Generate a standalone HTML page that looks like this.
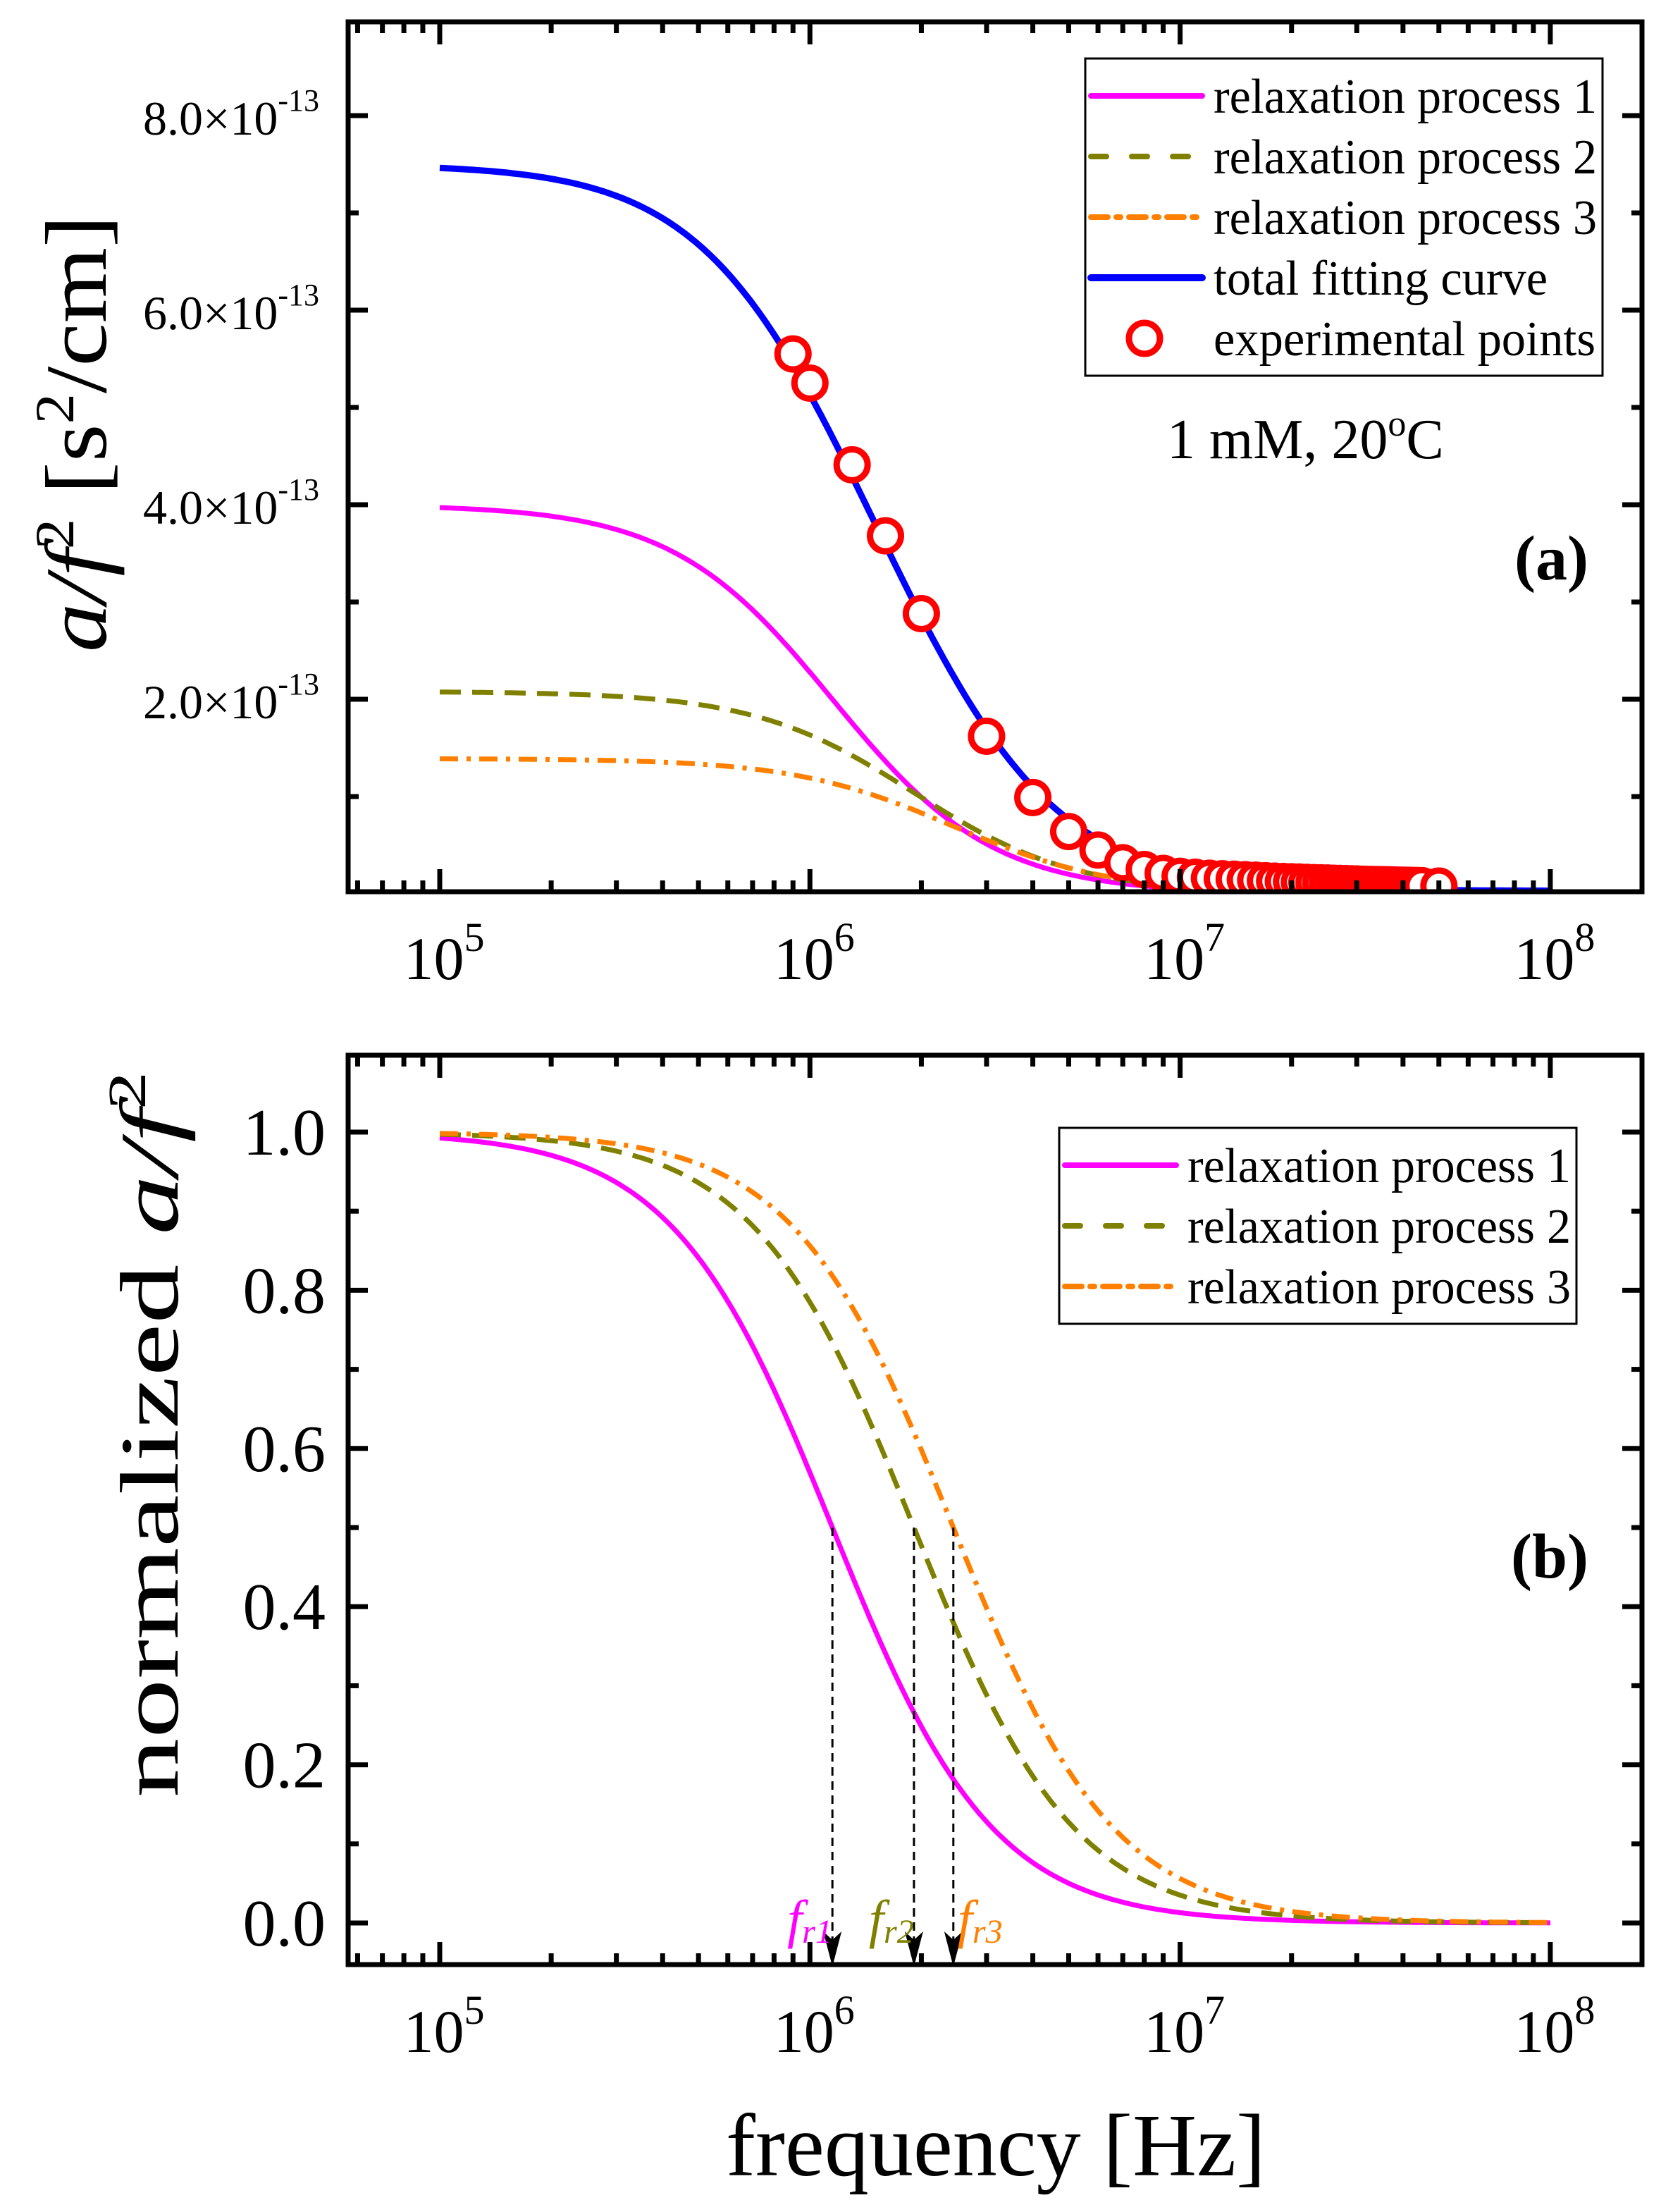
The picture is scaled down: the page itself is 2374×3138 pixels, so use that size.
<!DOCTYPE html>
<html><head><meta charset="utf-8"><style>
html,body{margin:0;padding:0;background:#fff;}
svg{display:block;font-family:"Liberation Serif",serif;}
</style></head><body>
<svg id="chart" xmlns="http://www.w3.org/2000/svg" width="2374" height="3138" viewBox="0 0 2374 3138">
<defs>
<clipPath id="clipA"><rect x="494" y="31" width="1836" height="1234"/></clipPath>
<clipPath id="clipB"><rect x="494" y="1497" width="1836" height="1290"/></clipPath>
</defs>
<g id="panelA"></g>
<g id="panelB"></g>
</svg>
<script>
// ---- data ----
const relaxFreqs = [1.15e6, 1.91e6, 2.44e6];          // fr1, fr2, fr3 (Hz)
const amplitudes = [4.0e-13, 2.08e-13, 1.39e-13];     // process amplitudes
const background = [0.03e-13];
const seriesNames = ["relaxation process 1","relaxation process 2","relaxation process 3"];
const expFreq = [0.9e6,1.0e6,1.3e6,1.6e6,2.0e6,3.0e6,4.0e6,5.0e6,6.0e6,7.0e6,8.0e6,9.0e6,10e6,
 11e6,12e6,13e6,14e6,15e6,16e6,17e6,18e6,19e6,20e6,21e6,22e6,23e6,24e6,25e6,26e6,27e6,28e6,29e6,30e6,
 31e6,32e6,33e6,34e6,35e6,36e6,37e6,38e6,39e6,40e6,41e6,42e6,43e6,44e6,45e6,50e6];
const expVal = [5.55e-13,5.25e-13,4.41e-13,3.68e-13,2.88e-13,1.62e-13,0.99e-13,0.64e-13,0.45e-13,0.32e-13,0.25e-13,0.21e-13,0.18e-13,
 0.17e-13,0.16e-13,0.155e-13,0.15e-13,0.145e-13,0.14e-13,0.135e-13,0.13e-13,0.127e-13,0.124e-13,0.121e-13,0.118e-13,0.115e-13,0.113e-13,0.111e-13,0.109e-13,0.107e-13,0.105e-13,0.103e-13,0.101e-13,
 0.099e-13,0.097e-13,0.096e-13,0.095e-13,0.094e-13,0.093e-13,0.092e-13,0.091e-13,0.09e-13,0.089e-13,0.088e-13,0.087e-13,0.086e-13,0.085e-13,0.084e-13,0.08e-13];
const yTicksA = [2e-13,4e-13,6e-13,8e-13];
const yTickLabelsA = ["2.0","4.0","6.0","8.0"];
const yTicksB = [0,0.2,0.4,0.6,0.8,1.0];
const yTickLabelsB = ["0.0","0.2","0.4","0.6","0.8","1.0"];
const xDecades = [5,6,7,8];

const NS="http://www.w3.org/2000/svg";
const colors=["#ff00ff","#808000","#ff8000"];
const dashes=["none","30 16","26 12 6 12"];
function el(tag,attrs,parent){const e=document.createElementNS(NS,tag);for(const k in attrs)e.setAttribute(k,attrs[k]);if(parent)parent.appendChild(e);return e;}
const X0=624, DEC=525.3;
function xs(f){return X0+DEC*(Math.log10(f)-5);}
function yA(v){return 1268-v*1.38e15;}
function yB(v){return 2728-v*1122;}
function relax(i,f){return amplitudes[i]/(1+Math.pow(f/relaxFreqs[i],2));}
function freqGrid(){const a=[];for(let k=0;k<=300;k++)a.push(Math.pow(10,5+3*k/300));return a;}

function frame(g,top,bottom,yticksMajor,yticksMinor,ysc){
  const L=494,R=2330;
  for(let d=4;d<=8;d++){for(let m=1;m<10;m++){const f=m*Math.pow(10,d);const x=xs(f);if(x<L||x>R)continue;
    const len=m===1?32:16;
    const t=el('line',{x1:x,y1:bottom,x2:x,y2:bottom-len,stroke:'#000','stroke-width':7},g);
    
    
    const t2=el('line',{x1:x,y1:top,x2:x,y2:top+len,stroke:'#000','stroke-width':7},g);
    
    }}
  yticksMajor.forEach(v=>{const y=ysc(v);
    const a=el('line',{x1:L,y1:y,x2:L+28,y2:y,stroke:'#000','stroke-width':7},g);
    
    
    const b=el('line',{x1:R,y1:y,x2:R-28,y2:y,stroke:'#000','stroke-width':7},g);
    
    });
  yticksMinor.forEach(v=>{const y=ysc(v);
    const a=el('line',{x1:L,y1:y,x2:L+15,y2:y,stroke:'#000','stroke-width':7},g);
    
    
    const b=el('line',{x1:R,y1:y,x2:R-15,y2:y,stroke:'#000','stroke-width':7},g);
    
    });
  const r=el('rect',{x:L,y:top,width:R-L,height:bottom-top,fill:'none',stroke:'#000','stroke-width':7},g);
  
  
  xDecades.forEach(d=>{const x=xs(Math.pow(10,d));
    const t=el('text',{x:x+6,y:bottom+124,'text-anchor':'middle','font-size':86},g);
    
    
    t.innerHTML='10<tspan dy="-40" font-size="58">'+d+'</tspan>';});
}
function pathFrom(xsArr,ysArr){return xsArr.map((x,i)=>(i?'L':'M')+x.toFixed(1)+' '+ysArr[i].toFixed(1)).join(' ');}
function legend(g,x,y,w,rowH,items){
  const h=rowH*items.length+20;
  const b=el('rect',{x:x,y:y,width:w,height:h,fill:'#fff',stroke:'#000','stroke-width':3},g);
  
  
  items.forEach((it,i)=>{const cy=y+10+rowH*(i+0.5);
    const eg=el('g',{},g);
    
    
    if(it.marker){el('circle',{cx:x+84,cy:cy,r:22,fill:'#fff',stroke:'#ff0000','stroke-width':9},eg);}
    else el('line',{x1:x+8,y1:cy,x2:x+166,y2:cy,stroke:it.color,'stroke-width':it.w||8,'stroke-dasharray':it.dash,'stroke-linecap':'round'},eg);
    const t=el('text',{x:x+182,y:cy+24,'font-size':70,textLength:it.tl||544,lengthAdjust:'spacingAndGlyphs'},eg);t.textContent=it.label;});
}

// ---------- Panel A ----------
const gA=document.getElementById('panelA');
const grid=freqGrid();
const minorA=[1e-13,3e-13,5e-13,7e-13];
const plotA=el('g',{'clip-path':'url(#clipA)'},gA);


[0,1,2].forEach(i=>{
  const p=el('path',{d:pathFrom(grid.map(xs),grid.map(f=>yA(relax(i,f)))),fill:'none',stroke:colors[i],'stroke-width':7,'stroke-dasharray':dashes[i]},plotA);
  
  
});
const tot=el('path',{d:pathFrom(grid.map(xs),grid.map(f=>yA(relax(0,f)+relax(1,f)+relax(2,f)+background[0])))
 ,fill:'none',stroke:'#0000ff','stroke-width':9},plotA);


expFreq.forEach((f,i)=>{
  const c=el('circle',{cx:xs(f),cy:yA(expVal[i]),r:22,fill:'#fff',stroke:'#ff0000','stroke-width':9},plotA);
  
  
});
frame(gA,31,1265,yTicksA,minorA,yA);
yTicksA.forEach((v,i)=>{const t=el('text',{x:453,y:yA(v)+27,'text-anchor':'end','font-size':68},gA);
  
  
  t.innerHTML=yTickLabelsA[i]+'×10<tspan dy="-34" font-size="44">-13</tspan>';});
legend(gA,1540,83,734,86,[
 {label:seriesNames[0],color:colors[0],dash:'none'},
 {label:seriesNames[1],color:colors[1],dash:'22 36'},
 {label:seriesNames[2],color:colors[2],dash:'24 12 6 12'},
 {label:'total fitting curve',color:'#0000ff',dash:'none',w:10,tl:474},
 {label:'experimental points',marker:true,tl:542}]);
let t;
t=el('text',{x:1656,y:650,'font-size':80},gA);t.innerHTML='1 mM, 20<tspan dy="-32" font-size="52">o</tspan><tspan dy="32">C</tspan>';


t=el('text',{x:2254,y:822,'font-size':90,'font-weight':'bold','text-anchor':'end'},gA);t.textContent='(a)';


t=el('text',{transform:'translate(150,615) rotate(-90)','text-anchor':'middle','font-size':124,textLength:620,lengthAdjust:'spacingAndGlyphs'},gA);
t.innerHTML='<tspan font-style="italic">a/f</tspan><tspan dy="-46" font-size="78">2</tspan><tspan dy="46"> [s</tspan><tspan dy="-46" font-size="78">2</tspan><tspan dy="46">/cm]</tspan>';



// ---------- Panel B ----------
const gB=document.getElementById('panelB');
const minorB=[0.1,0.3,0.5,0.7,0.9];
const plotB=el('g',{'clip-path':'url(#clipB)'},gB);


[0,1,2].forEach(i=>{
  const p=el('path',{d:pathFrom(grid.map(xs),grid.map(f=>yB(relax(i,f)/amplitudes[i]))),fill:'none',stroke:colors[i],'stroke-width':7,'stroke-dasharray':dashes[i]},plotB);
  
  
});
frame(gB,1497,2787,yTicksB,minorB,yB);
const labelOffsets=[-64,-64,6];
relaxFreqs.forEach((fr,i)=>{const x=xs(fr);
  const l=el('line',{x1:x,y1:yB(0.5),x2:x,y2:2760,stroke:'#000','stroke-width':3,'stroke-dasharray':'12 8'},gB);
  
  
  const a=el('path',{d:`M${x-13} ${2740} L${x} ${2752} L${x+13} ${2740} L${x} ${2790} Z`,fill:'#000'},gB);
  
  
  const tx=el('text',{x:x+labelOffsets[i],y:2748,'font-size':76,'font-style':'italic',fill:colors[i]},gB);
  tx.innerHTML='f<tspan font-size="48" dy="8">r'+(i+1)+'</tspan>';
  
  
});
yTicksB.forEach((v,i)=>{const t=el('text',{x:462,y:yB(v)+32,'text-anchor':'end','font-size':94},gB);
  
  
  t.textContent=yTickLabelsB[i];});
legend(gB,1503,1600,734,86,[
 {label:seriesNames[0],color:colors[0],dash:'none'},
 {label:seriesNames[1],color:colors[1],dash:'22 36'},
 {label:seriesNames[2],color:colors[2],dash:'24 12 6 12'}]);
t=el('text',{x:2254,y:2238,'font-size':90,'font-weight':'bold','text-anchor':'end'},gB);t.textContent='(b)';


t=el('text',{transform:'translate(252,2035) rotate(-90)','text-anchor':'middle','font-size':118,textLength:1030,lengthAdjust:'spacingAndGlyphs'},gB);
t.innerHTML='normalized  <tspan font-style="italic">a/f</tspan><tspan dy="-46" font-size="76">2</tspan>';


t=el('text',{x:1413,y:3086,'text-anchor':'middle','font-size':126},gB);t.textContent='frequency [Hz]';


</script>
</body></html>
